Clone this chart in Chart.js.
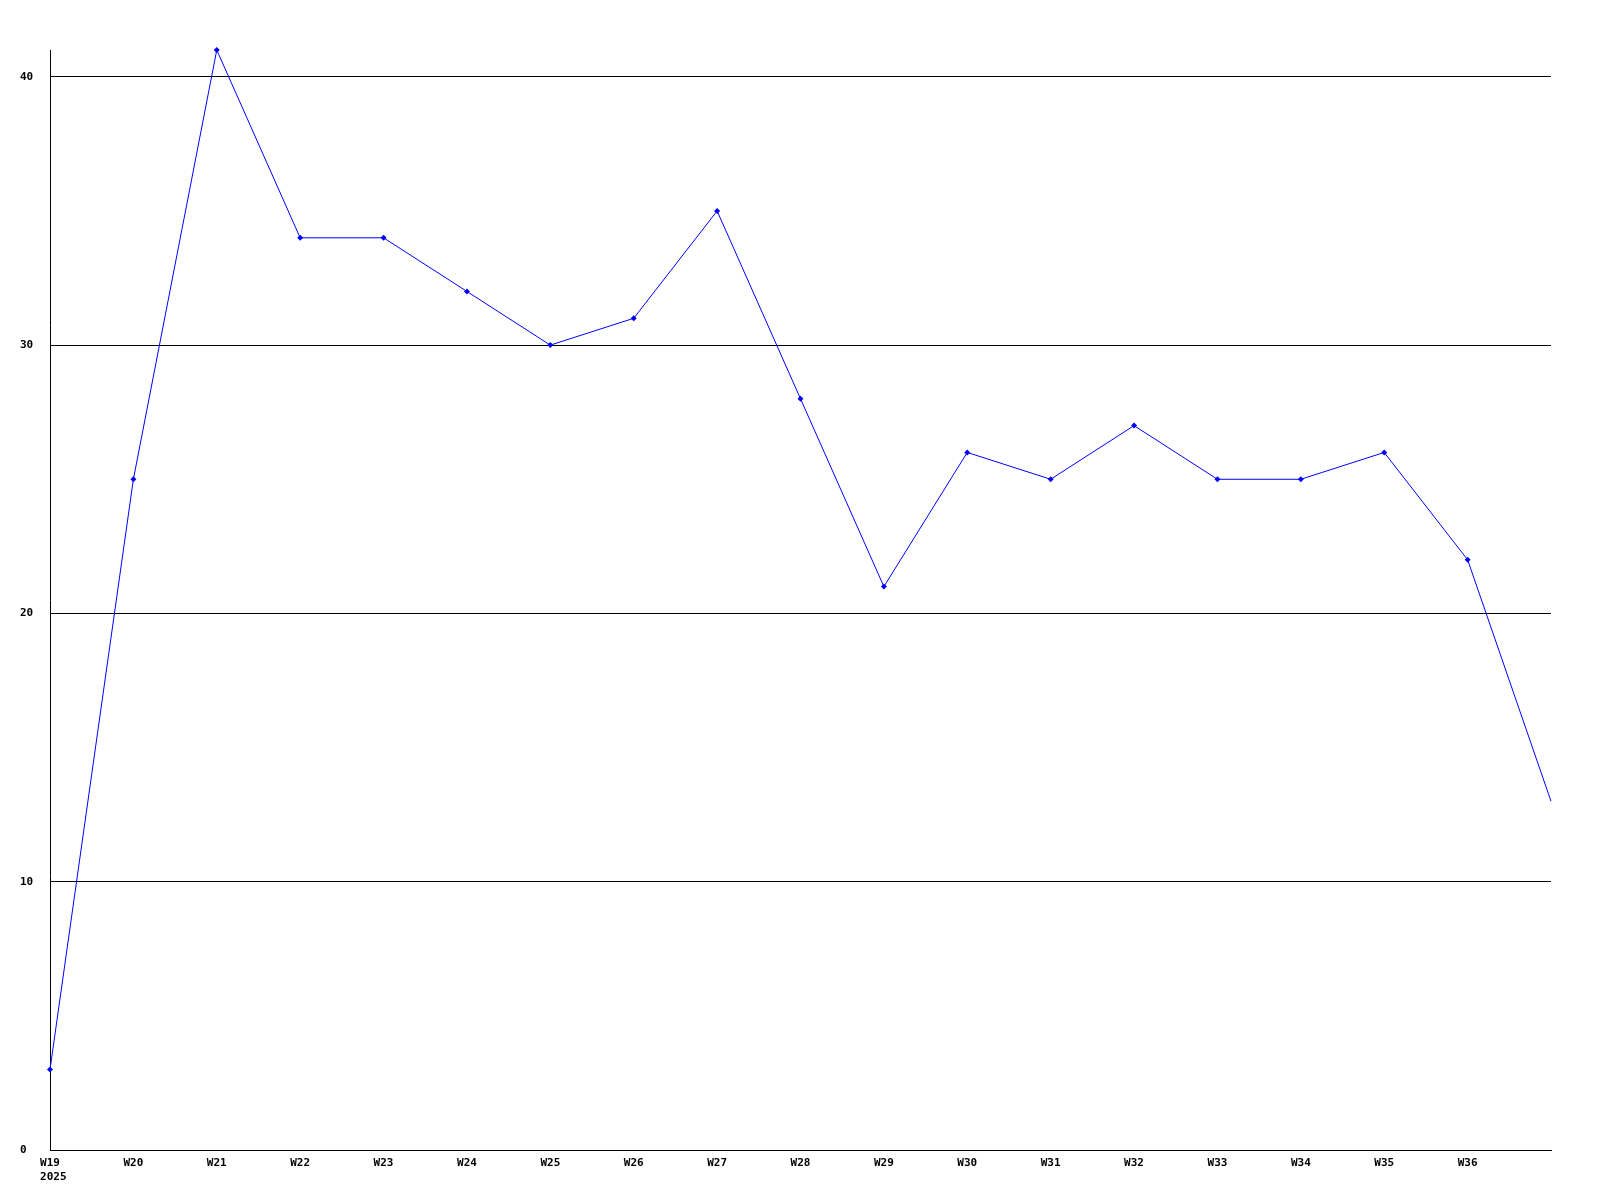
<!DOCTYPE html>
<html>
<head>
<meta charset="utf-8">
<script src="https://cdn.jsdelivr.net/npm/chart.js"></script>
<style>
  body { margin: 0; background: #fff; }
</style>
</head>
<body>
<canvas id="myChart" width="1600" height="1200"></canvas>

<script>
    // week labels (last week has no label in the original)
    // leading space keeps "2025" left-aligned under "W19"
    const weeks = [['W19', ' 2025'], 'W20', 'W21', 'W22', 'W23', 'W24', 'W25', 'W26', 'W27',
        'W28', 'W29', 'W30', 'W31', 'W32', 'W33', 'W34', 'W35', 'W36', ''];
    const counts = [3, 25, 41, 34, 34, 32, 30, 31, 35, 28, 21, 26, 25, 27, 25, 25, 26, 22, 13];
    const yTicks = [0, 10, 20, 30, 40];
    const yMax = 41;

    const tickFont = { family: 'DejaVu Sans Mono', size: 11, weight: 'bold', lineHeight: 1.3 };

    const ctx = document.getElementById('myChart').getContext('2d');

    const myChart = new Chart(ctx, {
        type: 'line',
        data: {
            labels: weeks,
            datasets: [{
                data: counts,
                borderColor: '#0000ff',
                backgroundColor: '#0000ff',
                borderWidth: 1,
                pointStyle: 'rectRot',
                // no marker on the last (open) week
                pointRadius: c => c.dataIndex === counts.length - 1 ? 0 : 3,
                pointBorderWidth: 0,
                tension: 0,
                fill: false,
                clip: false
            }]
        },
        options: {
            responsive: false,
            animation: false,
            layout: { padding: { left: 20, top: 50, right: 49, bottom: 0 } },
            plugins: {
                legend: { display: false },
                tooltip: { enabled: false }
            },
            scales: {
                x: {
                    offset: false,
                    grid: { display: false, drawTicks: false },
                    border: { display: true, color: '#000', width: 1 },
                    ticks: {
                        color: '#000',
                        font: tickFont,
                        padding: 6,
                        autoSkip: false,
                        maxRotation: 0
                    },
                    afterFit: s => { s.height = 50; }
                },
                y: {
                    min: 0,
                    max: yMax,
                    afterBuildTicks: s => {
                        s.ticks = yTicks.map(v => ({ value: v }));
                    },
                    grid: { color: '#000', lineWidth: 1, drawTicks: false },
                    border: { display: true, color: '#000', width: 1 },
                    ticks: {
                        color: '#000',
                        font: tickFont,
                        crossAlign: 'far',
                        padding: 0
                    },
                    afterFit: s => { s.width = 30; }
                }
            }
        }
    });
</script>
</body>
</html>
